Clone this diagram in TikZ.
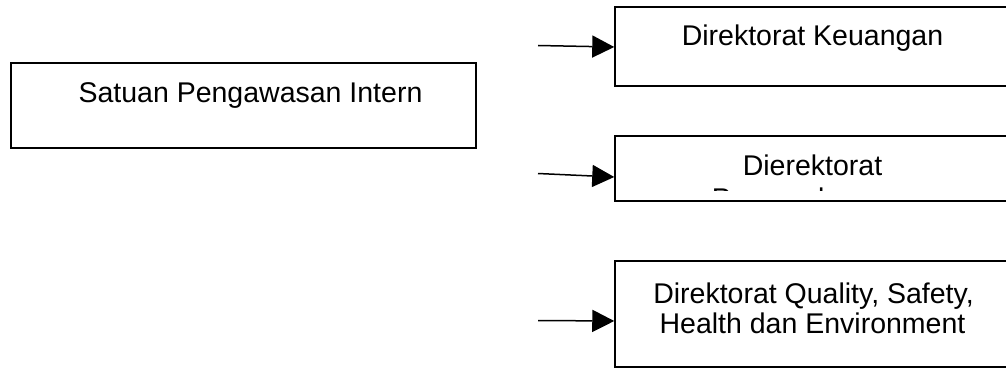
\documentclass[tikz,border=0pt]{standalone}
\usepackage{fontspec}
\setmainfont{Liberation Sans}
\usetikzlibrary{arrows.meta}
\begin{document}
\begin{tikzpicture}[x=1pt,y=-1pt,
  box/.style={draw, line width=1.5pt, rectangle, inner sep=0pt},
  lbl/.style={anchor=base, inner sep=0pt, font=\fontsize{28.5}{30}\selectfont},
  link/.style={line width=1.5pt, -{Triangle[length=22pt,width=22pt]}}]
\useasboundingbox (0,0) rectangle (1006,369);
\clip (0,0) rectangle (1006,369);

% internal audit unit
\node[box, minimum width=465pt, minimum height=85pt] (spi) at (243.5,105.5) {};
\node[lbl] (spiT) at (250.5,102.5) {Satuan Pengawasan Intern};

% finance directorate
\node[box, minimum width=395pt, minimum height=79pt] (keu) at (812.5,46.5) {};
\node[lbl] (keuT) at (812.5,45.5) {Direktorat Keuangan};

% development directorate (second line cut off by the box)
\node[box, minimum width=395pt, minimum height=65pt] (pgb) at (812.5,168.5) {};
\node[lbl] (pgbT) at (812.5,175) {Dierektorat};
\begin{scope}
  \clip (615,130) rectangle (1010,190);
  \node[lbl] (pgbT2) at (812.5,208) {Pengembangan};
\end{scope}

% QSHE directorate
\node[box, minimum width=395pt, minimum height=106pt] (qshe) at (812.5,314) {};
\node[lbl] (qsheT1) at (813.5,303.5) {Direktorat Quality, Safety,};
\node[lbl] (qsheT2) at (812.5,333.5) {Health dan Environment};

% incoming arrows
\coordinate (k0) at (538,45.5);
\coordinate (p0) at (538,173.5);
\coordinate (q0) at (538,320.5);
\draw[link] (k0) -- (keu.west |- 0,47);
\draw[link] (p0) -- (pgb.west |- 0,177);
\draw[link] (q0) -- (qshe.west |- 0,321);
\end{tikzpicture}
\end{document}
